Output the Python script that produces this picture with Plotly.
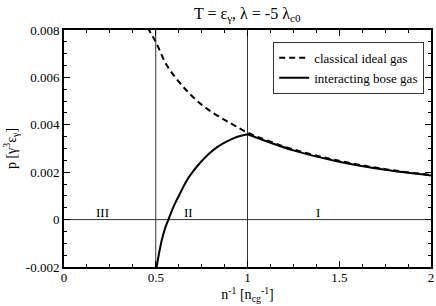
import plotly.graph_objects as go

# data
classical_x = [0.455, 0.5, 0.561, 0.65, 0.742, 0.833, 0.923, 1.0, 1.25, 1.5, 1.75, 2.0]
classical_y = [0.0081, 0.0075, 0.0065, 0.0056, 0.0049, 0.0044, 0.0040, 0.00367, 0.00296, 0.00248, 0.00213, 0.00188]

bose2_x = [0.505, 0.519, 0.533, 0.551, 0.569, 0.597, 0.633, 0.665, 0.70, 0.742, 0.79, 0.833, 0.88, 0.923, 0.96, 1.0]
bose2_y = [-0.002, -0.00138, -0.00086, -0.00036, 0.0, 0.00055, 0.00111, 0.00160, 0.00200, 0.00240, 0.00278,
           0.00305, 0.00327, 0.00343, 0.00353, 0.00360]
bose1_x = [1.0, 1.25, 1.5, 1.75, 2.0]
bose1_y = [0.00360, 0.00292, 0.00244, 0.00210, 0.00186]

region_labels = ["III", "II", "I"]
region_x = [0.21, 0.68, 1.386]

x_ticks = [0, 0.5, 1, 1.5, 2]
x_ticklabels = ["0", "0.5", "1", "1.5", "2"]
y_ticks = [-0.002, 0, 0.002, 0.004, 0.006, 0.008]
y_ticklabels = ["-0.002", "0", "0.002", "0.004", "0.006", "0.008"]

FONT = "Liberation Serif"

fig = go.Figure()
fig.add_trace(go.Scatter(x=classical_x, y=classical_y, mode="lines", line_shape="spline",
                         line=dict(color="black", width=2, dash="6px,4px"),
                         name="classical ideal gas"))
fig.add_trace(go.Scatter(x=bose2_x, y=bose2_y, mode="lines", line_shape="spline",
                         line=dict(color="black", width=2),
                         name="interacting bose gas", legendgroup="b"))
fig.add_trace(go.Scatter(x=bose1_x, y=bose1_y, mode="lines", line_shape="spline",
                         line=dict(color="black", width=2),
                         name="interacting bose gas", legendgroup="b", showlegend=False))

# reference lines
for xv in [0.5, 1.0]:
    fig.add_shape(type="line", xref="x", yref="paper", x0=xv, x1=xv, y0=0, y1=1,
                  line=dict(color="#333333", width=1), layer="below")
fig.add_shape(type="line", xref="paper", yref="y", x0=0, x1=1, y0=0, y1=0,
              line=dict(color="#333333", width=1), layer="below")

for lab, xv in zip(region_labels, region_x):
    fig.add_annotation(x=xv, y=0, text=lab, showarrow=False, yanchor="bottom", yshift=-2,
                       font=dict(family=FONT, size=13, color="black"))

axis_common = dict(showline=True, linecolor="black", linewidth=2, mirror="ticks",
                   ticks="inside", ticklen=6, tickwidth=1, tickcolor="black",
                   showgrid=False, zeroline=False, automargin=False,
                   tickfont=dict(family=FONT, size=13, color="black"))

fig.update_xaxes(range=[0, 2], tickvals=x_ticks, ticktext=x_ticklabels,
                 minor=dict(dtick=0.125, ticks="inside", ticklen=3, tickcolor="black"),
                 title=dict(text="n<sup>-1</sup> [n<sub>cg</sub><sup>-1</sup>]",
                            font=dict(family=FONT, size=14, color="black"), standoff=0),
                 ticklabelstandoff=-3,
                 **axis_common)
fig.update_yaxes(range=[-0.002, 0.008], tickvals=y_ticks, ticktext=y_ticklabels,
                 minor=dict(dtick=0.0005, ticks="inside", ticklen=3, tickcolor="black"),
                 title=dict(text="p [γ<sup>3</sup>ε<sub>γ</sub>]",
                            font=dict(family=FONT, size=14, color="black"), standoff=6),
                 **axis_common)

fig.update_layout(
    width=436, height=306,
    margin=dict(l=64, r=5, t=30, b=39),
    paper_bgcolor="white", plot_bgcolor="white",
    title=dict(text="T = ε<sub>γ</sub>, λ = -5 λ<sub>c0</sub>", x=0.567, xanchor="center",
               y=0.975, yanchor="top", automargin=False,
               font=dict(family=FONT, size=16, color="black")),
    legend=dict(x=0.57, y=0.95, xanchor="left", yanchor="top",
                bgcolor="white", bordercolor="#333333", borderwidth=1,
                font=dict(family=FONT, size=13, color="black"),
                tracegroupgap=0, itemwidth=30),
    showlegend=True,
)

fig.write_html("out.html", config={"displayModeBar": False},
               post_script="document.body.style.margin='0';document.body.style.overflow='hidden';")
